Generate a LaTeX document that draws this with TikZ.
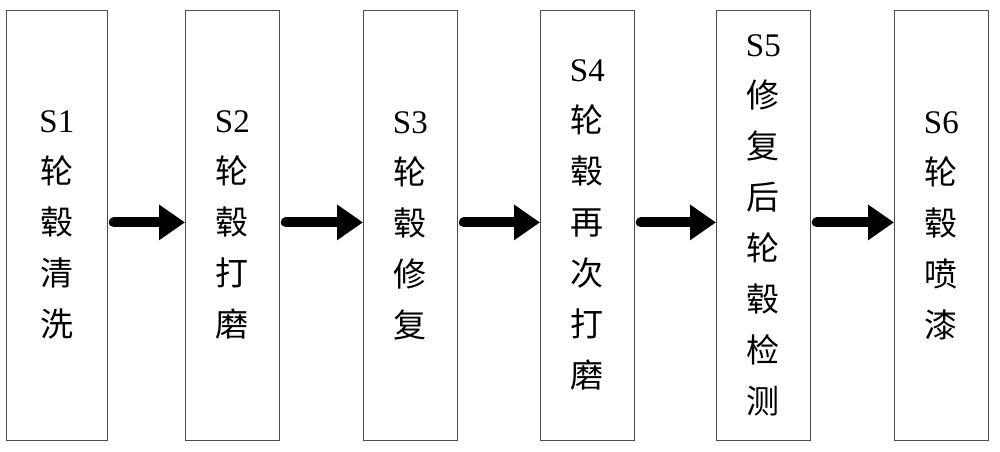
\documentclass[tikz,border=0pt]{standalone}
\usepackage{fontspec}
\setmainfont{Liberation Serif}
\newfontfamily\cjk{Noto Sans CJK SC}
\usetikzlibrary{arrows.meta}
\tikzset{
  stepbox/.style={draw=black!70, line width=0.8pt, minimum width=94pt, minimum height=430pt, anchor=north west},
  steptext/.style={align=center, font=\fontsize{33}{51}\selectfont},
  flow/.style={line width=10pt, line cap=round, -{Triangle[length=26pt, width=34pt]}}
}
\begin{document}
\begin{tikzpicture}[x=1pt, y=-1pt]
    \useasboundingbox (0, 0) rectangle (1000, 451);

    \node (b1)[stepbox, minimum width=101pt] at (6, 10) {};
    \node (b2)[stepbox] at (185, 10) {};
    \node (b3)[stepbox] at (363, 10) {};
    \node (b4)[stepbox] at (540, 10) {};
    \node (b5)[stepbox] at (716, 10) {};
    \node (b6)[stepbox] at (894, 10) {};

    \node (t1)[steptext] at (b1.center) {S1\\\cjk 轮\\\cjk 毂\\\cjk 清\\\cjk 洗};
    \node (t2)[steptext] at (b2.center) {S2\\\cjk 轮\\\cjk 毂\\\cjk 打\\\cjk 磨};
    \node (t3)[steptext] at (b3.center) {S3\\\cjk 轮\\\cjk 毂\\\cjk 修\\\cjk 复};
    \node (t4)[steptext] at (b4.center) {S4\\\cjk 轮\\\cjk 毂\\\cjk 再\\\cjk 次\\\cjk 打\\\cjk 磨};
    \node (t5)[steptext] at (b5.center) {S5\\\cjk 修\\\cjk 复\\\cjk 后\\\cjk 轮\\\cjk 毂\\\cjk 检\\\cjk 测};
    \node (t6)[steptext] at (b6.center) {S6\\\cjk 轮\\\cjk 毂\\\cjk 喷\\\cjk 漆};

    \draw[flow] ([xshift=6pt, yshift=3pt]b1.east) -- ([yshift=3pt]b2.west);
    \draw[flow] ([xshift=6pt, yshift=3pt]b2.east) -- ([yshift=3pt]b3.west);
    \draw[flow] ([xshift=6pt, yshift=3pt]b3.east) -- ([yshift=3pt]b4.west);
    \draw[flow] ([xshift=6pt, yshift=3pt]b4.east) -- ([yshift=3pt]b5.west);
    \draw[flow] ([xshift=6pt, yshift=3pt]b5.east) -- ([yshift=3pt]b6.west);
\end{tikzpicture}
\end{document}
